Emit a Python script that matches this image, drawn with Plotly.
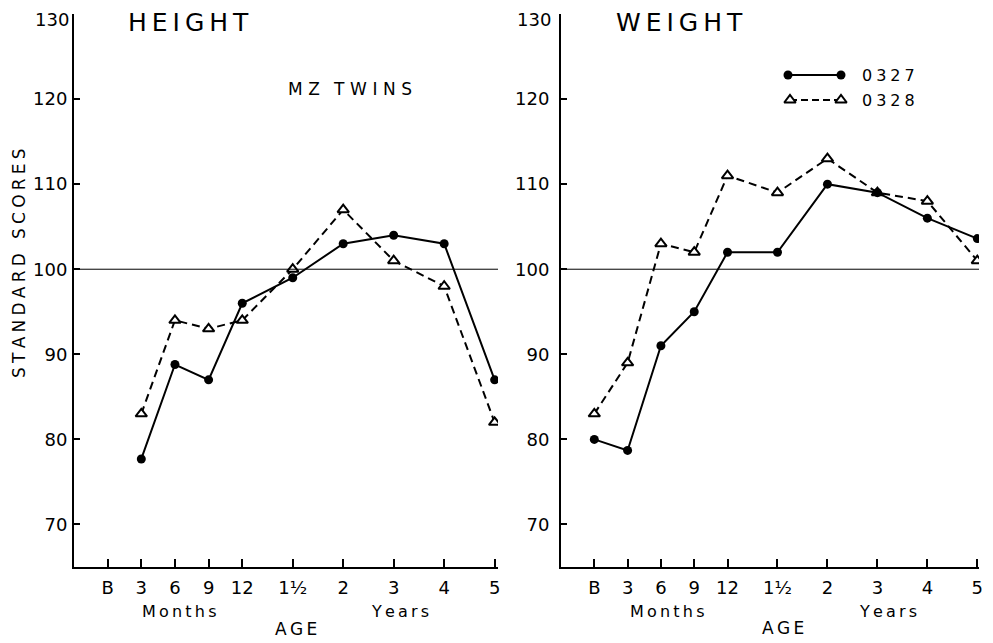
import plotly.graph_objects as go

# ---------------- data ----------------
age_labels = ["B", "3", "6", "9", "12", "1½", "2", "3", "4", "5"]
n_month_ticks = 5  # B, 3, 6, 9, 12 months; the rest are years

height_0327 = [None, 77.7, 88.8, 87, 96, 99, 103, 104, 103, 87]
height_0328 = [None, 83, 94, 93, 94, 100, 107, 101, 98, 82]
weight_0327 = [80, 78.7, 91, 95, 102, 102, 110, 109, 106, 103.6]
weight_0328 = [83, 89, 103, 102, 111, 109, 113, 109, 108, 101]

y_ticks = [70, 80, 90, 100, 110, 120, 130]
reference_score = 100

# age scale: one unit per month step, 1.5 units per year step
age_pos = list(range(n_month_ticks)) + [
    n_month_ticks - 1 + 1.5 * k for k in range(1, len(age_labels) - n_month_ticks + 1)
]

# ---------------- layout constants ----------------
PAGE_W, PAGE_H = 993, 643
OFF = 8                      # default body margin of the page
W, H = PAGE_W - OFF, PAGE_H - OFF
FONT = "DejaVu Sans"


def px(x):
    return (x - OFF) / W


def py(y):
    return 1 - (y - OFF) / H


def spaced(text, sep="\u2009", word_sep="\u2002\u2004"):
    return word_sep.join(sep.join(list(w)) for w in text.split(" "))


y_dom = [py(567), py(14)]
left_dom = [px(74), px(498)]
right_dom = [px(561), px(979)]

fig = go.Figure()

panels = [
    ("x", "y", height_0327, height_0328),
    ("x2", "y2", weight_0327, weight_0328),
]

DASH = "8px,5px"
tri_marker = dict(symbol="triangle-up", size=10, color="white",
                  line=dict(color="black", width=2))
dot_marker = dict(symbol="circle", size=9, color="black")

for xa, ya, s27, s28 in panels:
    fig.add_trace(go.Scatter(
        x=age_pos, y=s28, xaxis=xa, yaxis=ya, mode="lines+markers",
        line=dict(color="black", width=2, dash=DASH), marker=tri_marker,
        showlegend=False, hoverinfo="skip"))
    fig.add_trace(go.Scatter(
        x=age_pos, y=s27, xaxis=xa, yaxis=ya, mode="lines+markers",
        line=dict(color="black", width=2), marker=dot_marker,
        showlegend=False, hoverinfo="skip"))

# legend keys drawn on a page-pixel overlay axis
fig.add_trace(go.Scatter(
    x=[788, 841], y=[75, 75], xaxis="x3", yaxis="y3", mode="lines+markers",
    line=dict(color="black", width=2), marker=dot_marker,
    showlegend=False, hoverinfo="skip"))
fig.add_trace(go.Scatter(
    x=[790, 841], y=[100, 100], xaxis="x3", yaxis="y3", mode="lines+markers",
    line=dict(color="black", width=2, dash="7px,4px"), marker=tri_marker,
    showlegend=False, hoverinfo="skip"))

# the top tick label is drawn as an annotation so it is not clipped at the page edge
y_ticktext = [str(v) if v != y_ticks[-1] else "" for v in y_ticks]

xaxis_common = dict(
    range=[-1, 11.6], tickvals=age_pos, ticktext=age_labels,
    showline=True, linecolor="black", linewidth=2,
    ticks="inside", ticklen=8, tickwidth=2, tickcolor="black",
    tickfont=dict(family=FONT, size=18, color="black"),
    showgrid=False, zeroline=False, ticklabelstandoff=3, fixedrange=True,
    ticklabeloverflow="allow", automargin=False,
)
yaxis_common = dict(
    range=[65, 130], tickvals=y_ticks, ticktext=y_ticktext, domain=y_dom,
    showline=True, linecolor="black", linewidth=2,
    ticks="inside", ticklen=6, tickwidth=2, tickcolor="black",
    tickfont=dict(family=FONT, size=18, color="black"),
    showgrid=False, zeroline=False, fixedrange=True,
    ticklabeloverflow="allow", automargin=False,
)

fig.update_layout(
    width=W, height=H,
    margin=dict(l=0, r=0, t=0, b=0, autoexpand=False),
    paper_bgcolor="white", plot_bgcolor="rgba(0,0,0,0)",
    font=dict(family=FONT, color="black"),
    xaxis=dict(xaxis_common, domain=left_dom, anchor="y"),
    yaxis=dict(yaxis_common, anchor="x", ticklabelstandoff=1),
    xaxis2=dict(xaxis_common, domain=right_dom, anchor="y2", range=[-1, 11.55]),
    yaxis2=dict(yaxis_common, anchor="x2", ticklabelstandoff=6),
    xaxis3=dict(domain=[0, 1], range=[OFF, PAGE_W], visible=False, anchor="y3",
                fixedrange=True, automargin=False),
    yaxis3=dict(domain=[0, 1], range=[PAGE_H, OFF], visible=False, anchor="x3",
                fixedrange=True, automargin=False),
    showlegend=False,
)

# reference lines at 100
for xr, yr in [("x domain", "y"), ("x2 domain", "y2")]:
    fig.add_shape(type="line", xref=xr, yref=yr, x0=0, x1=1,
                  y0=reference_score, y1=reference_score,
                  line=dict(color="black", width=1))

# top tick labels (130)
for xr, yr, xshift in [("x domain", "y", -3), ("x2 domain", "y2", -8)]:
    fig.add_annotation(text=str(y_ticks[-1]), xref=xr, yref=yr, x=0, y=y_ticks[-1],
                       xanchor="right", yanchor="middle", xshift=xshift, yshift=-5,
                       showarrow=False,
                       font=dict(family=FONT, size=18, color="black"))


def ann(text, x, y, size, angle=0, xanchor="center"):
    fig.add_annotation(text=text, x=px(x), y=py(y), xref="paper", yref="paper",
                       showarrow=False, textangle=angle, xanchor=xanchor,
                       yanchor="middle",
                       font=dict(family=FONT, size=size, color="black"))


ann(spaced("HEIGHT"), 188, 22, 25)
ann(spaced("WEIGHT"), 679, 22, 25)
ann(spaced("MZ TWINS", sep="\u2004"), 350, 89, 17)
ann(spaced("STANDARD SCORES", sep="\u2005"), 19, 263, 17, angle=-90)

for cx, label in [(179, "Months"), (400, "Years"), (667, "Months"), (888, "Years")]:
    ann(spaced(label), cx, 611, 16)
ann(spaced("AGE"), 296, 629, 17)
ann(spaced("AGE"), 783, 628, 17)

ann(spaced("0327", sep="\u2005"), 860, 75, 16, xanchor="left")
ann(spaced("0328", sep="\u2005"), 860, 100, 16, xanchor="left")

fig.write_html("out.html")
